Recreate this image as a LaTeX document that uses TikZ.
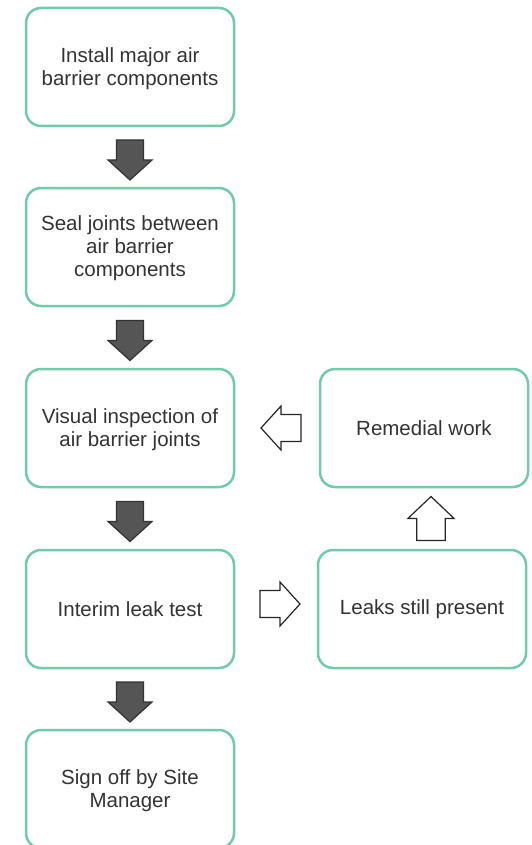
\documentclass[tikz,border=0pt]{standalone}
\usepackage{fontspec}
\setmainfont{Liberation Sans}
\usetikzlibrary{calc}
\definecolor{boxgreen}{HTML}{6FCBA8}
\definecolor{txtgray}{HTML}{333333}
\definecolor{darkfill}{HTML}{555555}
\begin{document}
\begin{tikzpicture}[x=1pt,y=-1pt,
  stepbox/.style={draw=boxgreen,line width=2.5pt,rounded corners=15pt,fill=white,
    minimum width=208pt,minimum height=118pt,align=center,text=txtgray,
    font=\fontsize{20.5pt}{23pt}\selectfont,inner sep=0pt},
  multi/.style={label={[font=\fontsize{20.5pt}{23pt}\selectfont,text=txtgray,align=center,yshift=-1.5pt]center:#1}},
  darkarrow/.style={fill=darkfill,draw=txtgray,line width=1.2pt,line join=miter},
  whitearrow/.style={fill=white,draw=black!85,line width=1.2pt,line join=miter},
  pics/blockarrow/.style={code={
    \path[pic actions] (-20,-13.5) -- (0,-13.5) -- (0,-22) -- (20,0) -- (0,22) -- (0,13.5) -- (-20,13.5) -- cycle;}}
]
\useasboundingbox (0,0) rectangle (532,845);
\node[stepbox,multi={Install major air\\barrier components}] (install) at (130,67) {};
\node[stepbox,multi={Seal joints between\\air barrier\\components}] (seal) at (130,247) {};
\node[stepbox,multi={Visual inspection of\\air barrier joints}] (visual) at (130,428) {};
\node[stepbox] (interim) at (130,609) {Interim leak test};
\node[stepbox,multi={Sign off by Site\\Manager}] (signoff) at (130,789) {};
\node[stepbox] (remedial) at (424,428) {Remedial work};
\node[stepbox] (leaks) at (422,609) {Leaks still present};

\coordinate (a1) at ($(install.south)!0.5!(seal.north)+(0,3)$);
\coordinate (a2) at ($(seal.south)!0.5!(visual.north)+(0,3)$);
\coordinate (a3) at ($(visual.south)!0.5!(interim.north)+(0,3)$);
\coordinate (a4) at ($(interim.south)!0.5!(signoff.north)+(0,3)$);
\coordinate (a5) at ($(interim.east)!0.5!(leaks.west)+(4,-5)$);
\coordinate (a6) at ($(leaks.north)!0.5!(remedial.south)+(8,0)$);
\coordinate (a7) at ($(visual.east)!0.5!(remedial.west)+(4,0)$);

\pic[darkarrow,rotate=-90] at (a1) {blockarrow};
\pic[darkarrow,rotate=-90] at (a2) {blockarrow};
\pic[darkarrow,rotate=-90] at (a3) {blockarrow};
\pic[darkarrow,rotate=-90] at (a4) {blockarrow};
\pic[whitearrow] at (a5) {blockarrow};
\pic[whitearrow,rotate=90,yscale=1.05,xscale=1.1] at (a6) {blockarrow};
\pic[whitearrow,rotate=180] at (a7) {blockarrow};
\end{tikzpicture}
\end{document}
